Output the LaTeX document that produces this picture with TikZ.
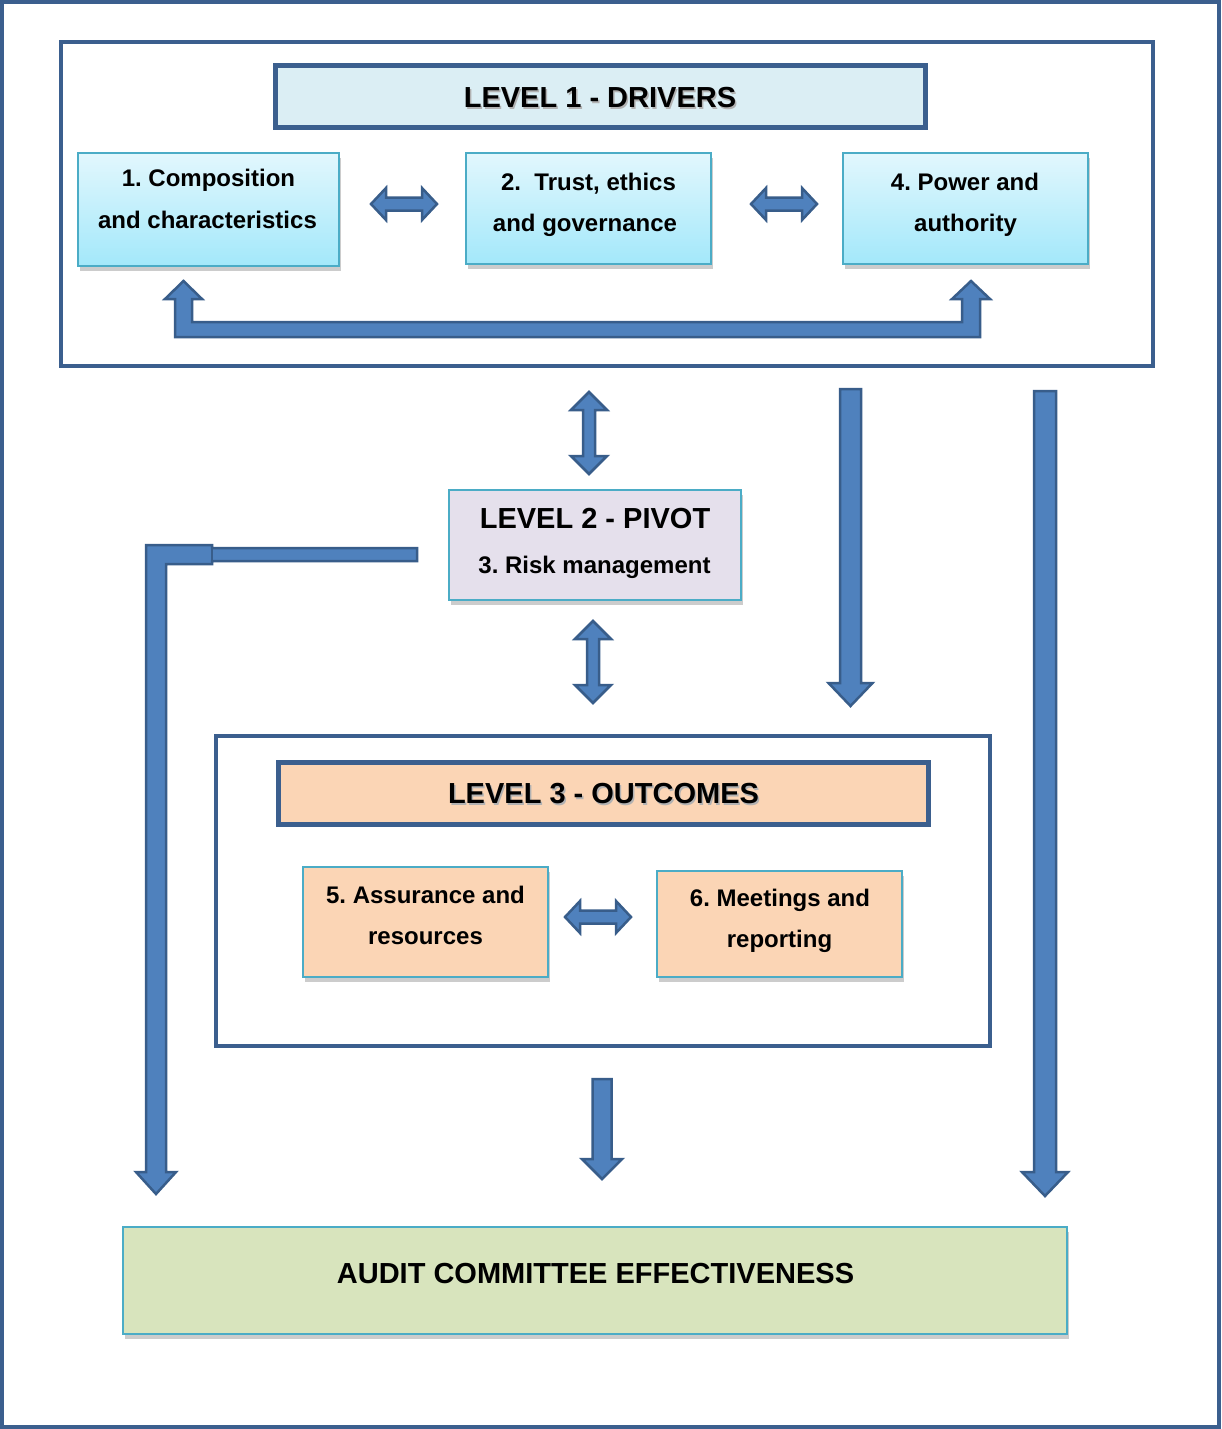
\documentclass[tikz,border=0pt]{standalone}
\usepackage{fontspec}
\setmainfont{Liberation Sans}
\usetikzlibrary{shadows}
\frenchspacing

\definecolor{framecol}{HTML}{3B5F8E}
\definecolor{arrowfill}{HTML}{4F81BD}
\definecolor{arrowline}{HTML}{385D8A}
\definecolor{boxline}{HTML}{4BACC6}
\definecolor{cyantop}{HTML}{E2F7FD}
\definecolor{cyanbot}{HTML}{A3E8FA}
\definecolor{titleblue}{HTML}{DBEEF4}
\definecolor{pivotfill}{HTML}{E5E0EC}
\definecolor{peach}{HTML}{FBD5B5}
\definecolor{sage}{HTML}{D8E4BD}

% horizontal double block arrow: x1, x2, y
\newcommand{\HDoubleArrow}[3]{%
  \filldraw[blockarrow] (#1,#3) -- ({#1+15},{#3-16}) -- ({#1+15},{#3-6.5})
    -- ({#2-15},{#3-6.5}) -- ({#2-15},{#3-16}) -- (#2,#3) -- ({#2-15},{#3+16})
    -- ({#2-15},{#3+6.5}) -- ({#1+15},{#3+6.5}) -- ({#1+15},{#3+16}) -- cycle;}
% vertical double block arrow: x, y1, y2
\newcommand{\VDoubleArrow}[3]{%
  \filldraw[blockarrow] (#1,#2) -- ({#1+18},{#2+18}) -- ({#1+6},{#2+18})
    -- ({#1+6},{#3-18}) -- ({#1+18},{#3-18}) -- (#1,#3) -- ({#1-18},{#3-18})
    -- ({#1-6},{#3-18}) -- ({#1-6},{#2+18}) -- ({#1-18},{#2+18}) -- cycle;}
% downward block arrow: x, shaft half width, head half width, top, head base, tip
\newcommand{\DownArrow}[6]{%
  \filldraw[blockarrow] ({#1-#2},#4) -- ({#1+#2},#4) -- ({#1+#2},#5)
    -- ({#1+#3},#5) -- (#1,#6) -- ({#1-#3},#5) -- ({#1-#2},#5) -- cycle;}

\tikzset{
  frame/.style={draw=framecol, line width=4pt, fill=white, inner sep=0pt},
  titlebox/.style={draw=framecol, line width=5pt, inner sep=0pt},
  card/.style={draw=boxline, line width=2pt, inner sep=0pt,
    drop shadow={shadow xshift=1.5pt, shadow yshift=-5pt, opacity=0.4}},
  cyancard/.style={card, top color=cyantop, bottom color=cyanbot},
  body/.style={font=\fontsize{24}{28}\selectfont\bfseries, anchor=base, inner sep=0pt},
  headtext/.style={font=\fontsize{29}{34}\selectfont\bfseries, anchor=base, inner sep=0pt},
  headshadow/.style={headtext, text=black!30},
  blockarrow/.style={fill=arrowfill, draw=arrowline, line width=2.5pt},
}

\begin{document}
\begin{tikzpicture}[x=1pt,y=-1pt]
\useasboundingbox (0,0) rectangle (1221,1429);
\fill[white] (0,0) rectangle (1221,1429);
\draw[framecol, line width=3.5pt] (2,2) rectangle (1219,1427);

% ---- level 1 ----
\node[frame, minimum width=1092pt, minimum height=324pt] (lvl1) at (607,204) {};
\node[titlebox, fill=titleblue, minimum width=650pt, minimum height=61pt] (lvl1title) at (600,96.5) {};
\node[headshadow] (lvl1shadow) at (601.5,109.5) {LEVEL 1 - DRIVERS};
\node[headtext] (lvl1text) at (600,107.5) {LEVEL 1 - DRIVERS};

\node[cyancard, minimum width=261pt, minimum height=113pt] (comp) at (208.5,209.5) {};
\node[body] (compA) at (208.5,186.5) {1. Composition};
\node[body] (compB) at (207.5,228.5) {and characteristics};

\node[cyancard, minimum width=245pt, minimum height=111pt] (trust) at (588.5,208.5) {};
\node[body] (trustA) at (588.5,190.5) {2.~~Trust, ethics};
\node[body] (trustB) at (585,231.5) {and governance};

\node[cyancard, minimum width=245pt, minimum height=111pt] (power) at (965.5,208.5) {};
\node[body] (powerA) at (965,190.5) {4. Power and};
\node[body] (powerB) at (965.5,231.5) {authority};

\HDoubleArrow{371}{437}{204}
\HDoubleArrow{751}{817}{204}

% feedback bracket from composition to power
\filldraw[blockarrow] (175,337) -- (175,299) -- (165,299) -- (183.5,281) -- (202,299)
  -- (192,299) -- (192,322) -- (962,322) -- (962,299) -- (952,299) -- (971,281)
  -- (990,299) -- (980,299) -- (980,337) -- cycle;

% ---- level 2 ----
\VDoubleArrow{589}{392}{474}
\node[card, fill=pivotfill, minimum width=292pt, minimum height=110pt] (pivot) at (595,545) {};
\node[headtext] (pivotA) at (595,528.5) {LEVEL 2 - PIVOT};
\node[body] (pivotB) at (594.5,573.5) {3. Risk management};
\VDoubleArrow{593}{621}{703}

% elbow arrow from the pivot down to the outcome box
\filldraw[blockarrow] (146,545) -- (212,545) -- (212,548) -- (417,548) -- (417,561)
  -- (212,561) -- (212,564) -- (166,564) -- (166,1172) -- (176,1172) -- (156,1194)
  -- (136,1172) -- (146,1172) -- cycle;
\draw[arrowline, line width=2.5pt] (212,548) -- (212,561);

% long arrows from level 1
\DownArrow{850.5}{10.5}{22}{389}{683}{706}
\DownArrow{1045}{11}{23}{391}{1172}{1196}

% ---- level 3 ----
\node[frame, minimum width=774pt, minimum height=310pt] (lvl3) at (603,891) {};
\node[titlebox, fill=peach, minimum width=650pt, minimum height=62pt] (lvl3title) at (603,793) {};
\node[headshadow] (lvl3shadow) at (605,805.5) {LEVEL 3 - OUTCOMES};
\node[headtext] (lvl3text) at (603.5,803.5) {LEVEL 3 - OUTCOMES};

\node[card, fill=peach, minimum width=245pt, minimum height=110pt] (assur) at (425.5,922) {};
\node[body] (assurA) at (425.5,903.5) {5. Assurance and};
\node[body] (assurB) at (425.5,944.5) {resources};

\node[card, fill=peach, minimum width=245pt, minimum height=106pt] (meet) at (779.5,924) {};
\node[body] (meetA) at (780,906.5) {6. Meetings and};
\node[body] (meetB) at (779.5,947.5) {reporting};

\HDoubleArrow{565}{631}{917}

\DownArrow{602}{9.5}{20}{1079}{1159}{1179}

% ---- result ----
\node[card, fill=sage, minimum width=944pt, minimum height=107pt] (result) at (595,1280.5) {};
\node[headtext] (resultText) at (595.5,1283.5) {AUDIT COMMITTEE EFFECTIVENESS};
\end{tikzpicture}
\end{document}
